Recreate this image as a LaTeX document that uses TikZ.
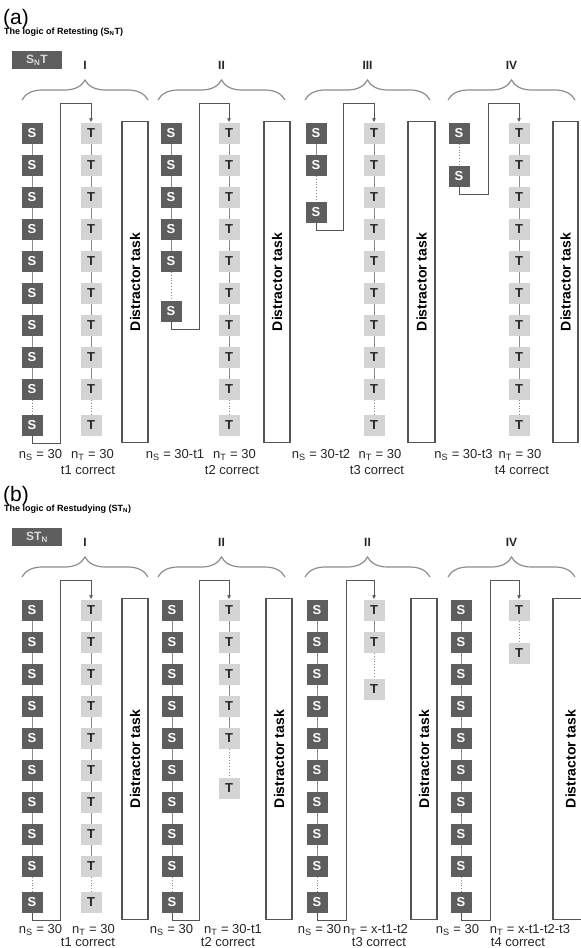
\documentclass[tikz,border=0pt]{standalone}
\usepackage{fontspec}
\setmainfont{Liberation Sans}
\usetikzlibrary{arrows.meta,decorations.pathreplacing,backgrounds}
\definecolor{sgrey}{HTML}{5E5E5E}
\definecolor{tgrey}{HTML}{D4D4D4}
\definecolor{lgrey}{HTML}{8C8C8C}
\definecolor{dgrey}{HTML}{555555}
% one column of S or T boxes: prefix, style, letter, x, solid rows, y of last box
\newcommand{\boxcol}[6]{%
  \foreach \k in {1,...,#5}
    \node[#2] (#1\k) at (#4,{101+32*\k}) {#3};
  \node[#2] (#1l) at (#4,#6) {#3};
  \begin{pgfonlayer}{background}
    \draw[lnk] (#11.center) -- (#1#5.center);
  \end{pgfonlayer}
  \draw[lnk,dotted] (#1#5.south) -- (#1l.north);
}
% brace, numeral, distractor and loop back: prefix, numeral, brace left, brace right, line x, distractor x, distractor width
\newcommand{\grp}[7]{%
  \draw[brc] (#3,100) -- (#4,100);
  \node[num] (#1num) at ({(#3+#4)/2},65) {#2};
  \node[distr,minimum height=#7] (#1dis) at (#6,282) {Distractor task};
  \coordinate (#1up) at (#5,103);
  \draw[fb] (#1sl.south) -- ++(0,8) -| (#1up) -| (#1t1.north);
}

\begin{document}
\begin{tikzpicture}[x=1pt,y=-1pt]
  \tikzstyle{sbox}=[fill=sgrey, text=white, font=\bfseries\fontsize{13}{13}\selectfont, minimum size=21, inner sep=0]
  \tikzstyle{tbox}=[fill=tgrey, text=black!85, font=\bfseries\fontsize{13}{13}\selectfont, minimum size=21, inner sep=0]
  \tikzstyle{lnk}=[draw=lgrey, line width=0.9]
  \tikzstyle{fb}=[draw=dgrey, line width=0.9, -{Latex[length=4,width=4]}]
  \tikzstyle{brc}=[draw=lgrey, line width=1.2, decorate, decoration={brace, amplitude=20}]
  \tikzstyle{num}=[font=\bfseries\fontsize{12}{12}\selectfont, text=black!85]
  \tikzstyle{distr}=[draw=dgrey, line width=1.1, rotate=90, minimum width=321, inner sep=0, font=\bfseries\fontsize{14}{14}\selectfont]
  \tikzstyle{lab}=[font=\fontsize{13}{13}\selectfont, text=black!85, inner sep=0]
  \tikzstyle{key}=[fill=sgrey, text=white!85!black, font=\bfseries\fontsize{12}{12}\selectfont, minimum width=50, minimum height=18, inner sep=0]
  \tikzstyle{ttl}=[font=\bfseries\fontsize{9}{9}\selectfont, inner sep=0, anchor=west]
  \tikzstyle{plab}=[font=\fontsize{21}{21}\selectfont, inner sep=0, anchor=west]
  \useasboundingbox (0,0) rectangle (581,948);
  \clip (0,0) rectangle (581,948);

  % (a) retesting
  \node[plab] (aLetter) at (3,19) {(a)};
  \node[ttl] (aTitle) at (4,32.5) {The logic of Retesting (S\textsubscript{N}T)};
  \node[key] (aKey) at (37,60) {S\textsubscript{N}T};
  \boxcol{aIs}{sbox}{S}{32}{9}{425}
  \boxcol{aIt}{tbox}{T}{91}{9}{425}
  \grp{aI}{I}{22}{148}{60}{135}{26}
  \boxcol{aIIs}{sbox}{S}{171}{5}{311}
  \boxcol{aIIt}{tbox}{T}{229}{9}{425}
  \grp{aII}{II}{158}{285}{199}{277}{26}
  \boxcol{aIIIs}{sbox}{S}{316}{2}{212}
  \boxcol{aIIIt}{tbox}{T}{374}{9}{425}
  \grp{aIII}{III}{305}{430}{343}{421.5}{27}
  \boxcol{aIVs}{sbox}{S}{459}{1}{176}
  \boxcol{aIVt}{tbox}{T}{519}{9}{425}
  \grp{aIV}{IV}{448}{575}{488}{565.5}{25}
  \node[lab] (aInS) at (40.5,455) {n\textsubscript{S} = 30};
  \node[lab] (aInT) at (92.5,455) {n\textsubscript{T} = 30};
  \node[lab] (aIok) at (88,470) {t1 correct};
  \node[lab] (aIInS) at (175,455) {n\textsubscript{S} = 30-t1};
  \node[lab] (aIInT) at (234.5,455) {n\textsubscript{T} = 30};
  \node[lab] (aIIok) at (232,470) {t2 correct};
  \node[lab] (aIIInS) at (321,455) {n\textsubscript{S} = 30-t2};
  \node[lab] (aIIInT) at (380,455) {n\textsubscript{T} = 30};
  \node[lab] (aIIIok) at (377,470) {t3 correct};
  \node[lab] (aIVnS) at (463.5,455) {n\textsubscript{S} = 30-t3};
  \node[lab] (aIVnT) at (520,455) {n\textsubscript{T} = 30};
  \node[lab] (aIVok) at (522,470) {t4 correct};

  % (b) restudying
  \begin{scope}[shift={(0,477)}]
    \node[plab] (bLetter) at (3,19) {(b)};
    \node[ttl] (bTitle) at (4,32.5) {The logic of Restudying (ST\textsubscript{N})};
    \node[key] (bKey) at (37,60) {ST\textsubscript{N}};
    \boxcol{bIs}{sbox}{S}{32}{9}{425}
    \boxcol{bIt}{tbox}{T}{91}{9}{425}
    \grp{bI}{I}{22}{148}{60}{135}{26}
    \boxcol{bIIs}{sbox}{S}{172}{9}{425}
    \boxcol{bIIt}{tbox}{T}{229}{5}{311}
    \grp{bII}{II}{158}{285}{199}{279}{26}
    \boxcol{bIIIs}{sbox}{S}{317}{9}{425}
    \boxcol{bIIIt}{tbox}{T}{374}{2}{212}
    \grp{bIII}{II}{305}{430}{346}{424}{26}
    \boxcol{bIVs}{sbox}{S}{461}{9}{425}
    \boxcol{bIVt}{tbox}{T}{519}{1}{176}
    \grp{bIV}{IV}{448}{575}{490}{570.5}{35}
    \node[lab] (bInS) at (40.5,453) {n\textsubscript{S} = 30};
    \node[lab] (bInT) at (93.5,453) {n\textsubscript{T} = 30};
    \node[lab] (bIok) at (88,465) {t1 correct};
    \node[lab] (bIInS) at (171.5,453) {n\textsubscript{S} = 30};
    \node[lab] (bIInT) at (233,453) {n\textsubscript{T} = 30-t1};
    \node[lab] (bIIok) at (228,465) {t2 correct};
    \node[lab] (bIIInS) at (319.5,453) {n\textsubscript{S} = 30};
    \node[lab] (bIIInT) at (375.5,453) {n\textsubscript{T} = x-t1-t2};
    \node[lab] (bIIIok) at (379,465) {t3 correct};
    \node[lab] (bIVnS) at (457.5,453) {n\textsubscript{S} = 30};
    \node[lab] (bIVnT) at (530,453) {n\textsubscript{T} = x-t1-t2-t3};
    \node[lab] (bIVok) at (518,465) {t4 correct};
  \end{scope}
\end{tikzpicture}
\end{document}
